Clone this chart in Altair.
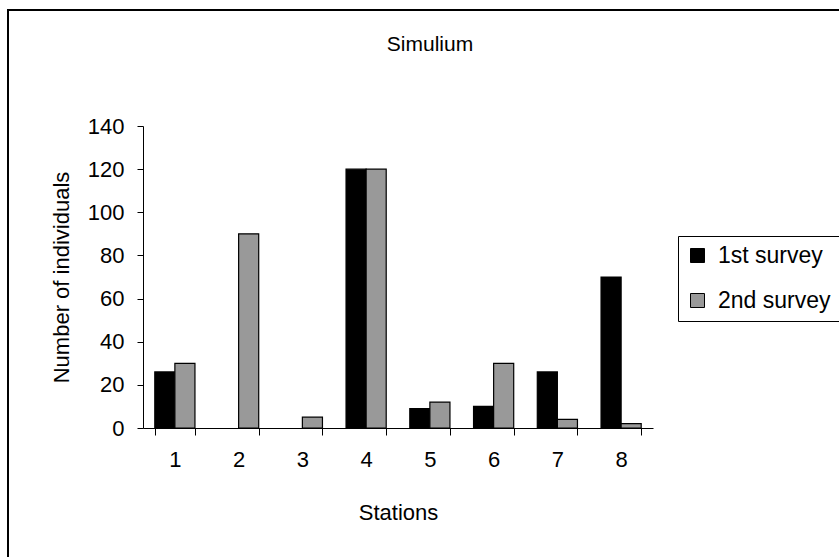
import altair as alt
import pandas as pd

title_text = ["Simulium"]
stations = ["1", "2", "3", "4", "5", "6", "7", "8"]
series = ["1st survey", "2nd survey"]
first_survey = [26, 0, 0, 120, 9, 10, 26, 70]
second_survey = [30, 90, 5, 120, 12, 30, 4, 2]
y_ticks = [0, 20, 40, 60, 80, 100, 120, 140]

rows = []
for i, s in enumerate(stations):
    rows.append({"station": s, "survey": series[0], "value": first_survey[i]})
    rows.append({"station": s, "survey": series[1], "value": second_survey[i]})
df = pd.DataFrame(rows)

FONT = "Liberation Sans"
L, T = 143, 126
W, H = 510, 302
R, B = 839 - L - W, 557 - T - H

bars = alt.Chart(df).transform_filter(
    "datum.value > 0"
).mark_bar(stroke="black", strokeWidth=1.2).encode(
    x=alt.X(
        "station:N",
        sort=stations,
        scale=alt.Scale(domain=stations, paddingInner=0.37, paddingOuter=0.185),
        axis=alt.Axis(
            title="Stations",
            labelAngle=0,
            tickBand="extent",
            tickSize=7,
            labelPadding=14,
            titlePadding=32,
            labelFontSize=22,
            titleFontSize=22,
        ),
    ),
    xOffset=alt.XOffset("survey:N", scale=alt.Scale(domain=series, paddingInner=0, paddingOuter=0)),
    y=alt.Y(
        "value:Q",
        scale=alt.Scale(domain=[0, 140], nice=False),
        axis=alt.Axis(
            title="Number of individuals",
            values=y_ticks,
            grid=False,
            tickSize=6,
            labelPadding=13,
            titlePadding=14,
            labelFontSize=22,
            titleFontSize=22,
        ),
    ),
    color=alt.Color(
        "survey:N",
        sort=series,
        scale=alt.Scale(domain=series, range=["#000000", "#999999"]),
        legend=alt.Legend(
            title=None,
            orient="none",
            legendX=535,
            legendY=110,
            symbolType="square",
            symbolSize=196,
            symbolStrokeColor="black",
            symbolStrokeWidth=1,
            labelFontSize=23,
            labelFont=FONT,
            labelColor="black",
            labelOffset=9,
            padding=8,
            rowPadding=21,
            strokeColor="black",
            fillColor="white",
            cornerRadius=0,
        ),
    ),
)

frame = alt.Chart(pd.DataFrame({"k": [0]})).mark_rect(
    filled=False, stroke="black", strokeWidth=2
).encode(
    x=alt.value(8 - L),
    x2=alt.value(900),
    y=alt.value(10 - T),
    y2=alt.value(700),
)

title = alt.Chart(pd.DataFrame({"t": title_text})).mark_text(
    font=FONT, fontSize=21, color="black", align="center", baseline="alphabetic"
).encode(
    text="t:N",
    x=alt.value(430 - L),
    y=alt.value(51 - T),
)

chart = alt.layer(frame, title, bars).properties(
    width=W,
    height=H,
    autosize=alt.AutoSizeParams(type="none"),
    padding={"left": L, "top": T, "right": R, "bottom": B},
).configure(
    background="white",
    font=FONT,
).configure_view(
    stroke=None
).configure_axis(
    domainColor="black",
    tickColor="black",
    labelColor="black",
    titleColor="black",
    labelFont=FONT,
    titleFont=FONT,
    titleFontWeight="normal",
)

chart.save("out.html", embed_options={"renderer": "svg", "actions": False})
